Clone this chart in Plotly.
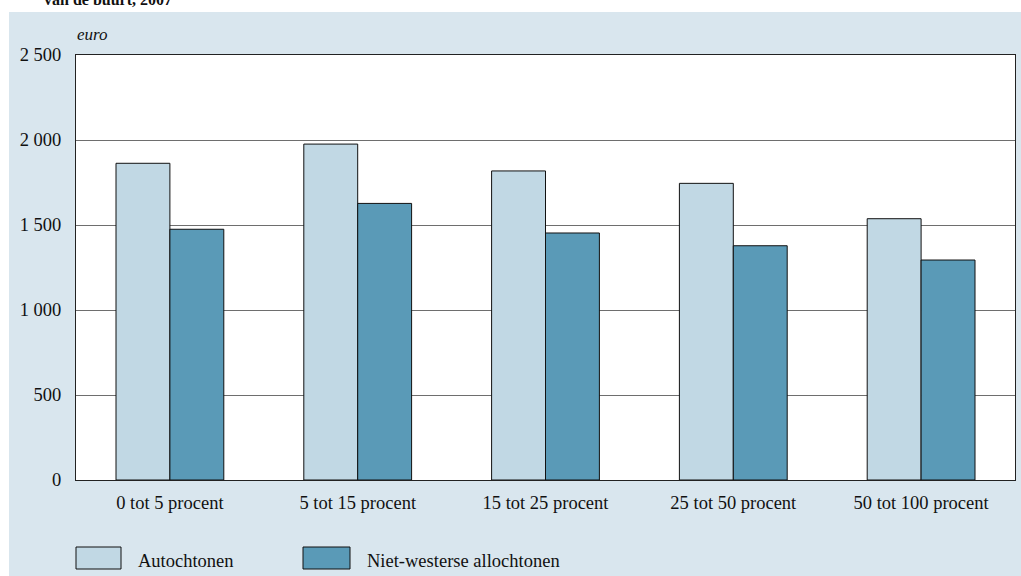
import plotly.graph_objects as go

categories = ["0 tot 5 procent", "5 tot 15 procent", "15 tot 25 procent",
              "25 tot 50 procent", "50 tot 100 procent"]
series_names = ["Autochtonen", "Niet-westerse allochtonen"]
autochtonen = [1863, 1976, 1818, 1745, 1537]
niet_westers = [1475, 1627, 1453, 1378, 1294]
y_tickvals = [0, 500, 1000, 1500, 2000, 2500]
y_ticktext = ["0", "500", "1 000", "1 500", "2 000", "2 500"]

colors = ["#c1d8e4", "#5a9ab7"]
panel = "#d9e6ee"
font_family = "Liberation Serif, Times New Roman, serif"
fsize = 18.5

W, H = 1021, 576
ml, mr, mt, mb = 76, 6, 55, 96
pw, ph = W - ml - mr, H - mt - mb

def px_x(x):
    return (x - ml) / pw

def px_y(y):
    return (H - mb - y) / ph

fig = go.Figure()
for name, vals, col in zip(series_names, [autochtonen, niet_westers], colors):
    fig.add_trace(go.Bar(
        x=categories, y=vals, name=name,
        marker=dict(color=col, line=dict(color="#111111", width=1)),
        showlegend=False,
    ))

shapes = [
    # white strips outside the light-blue panel (top and left)
    dict(type="rect", xref="paper", yref="paper", layer="below",
         x0=px_x(-2), x1=px_x(1025), y0=px_y(12), y1=px_y(-2),
         fillcolor="white", line=dict(width=0)),
    dict(type="rect", xref="paper", yref="paper", layer="below",
         x0=px_x(-2), x1=px_x(9), y0=px_y(580), y1=px_y(-2),
         fillcolor="white", line=dict(width=0)),
]
annotations = [
    dict(text="<i>euro</i>", xref="paper", yref="paper", x=px_x(75), y=px_y(35),
         xanchor="left", yanchor="middle", showarrow=False,
         font=dict(family=font_family, size=17, color="#111111")),
    dict(text="<b>van de buurt, 2007</b>", xref="paper", yref="paper",
         x=px_x(42), y=px_y(10), xanchor="left", yanchor="bottom", showarrow=False,
         font=dict(family=font_family, size=16, color="#111111")),
]
legend_boxes = [(76, 121), (303, 350)]
for (x0, x1), name, col in zip(legend_boxes, series_names, colors):
    shapes.append(dict(type="rect", xref="paper", yref="paper",
                       x0=px_x(x0), x1=px_x(x1), y0=px_y(569), y1=px_y(547),
                       fillcolor=col, line=dict(color="#111111", width=1)))
    annotations.append(dict(text=name, xref="paper", yref="paper",
                            x=px_x(x1 + 15), y=px_y(561), xanchor="left",
                            yanchor="middle", showarrow=False,
                            font=dict(family=font_family, size=fsize, color="#111111")))

fig.update_layout(
    width=W, height=H,
    margin=dict(l=ml, r=mr, t=mt, b=mb, pad=0),
    paper_bgcolor=panel, plot_bgcolor="white",
    barmode="group", bargap=0.426, bargroupgap=0,
    font=dict(family=font_family, size=fsize, color="#111111"),
    shapes=shapes, annotations=annotations,
    showlegend=False,
)
fig.update_xaxes(showline=True, mirror=True, linecolor="#222222", linewidth=1,
                 showgrid=False, ticks="", ticklabelstandoff=6,
                 tickfont=dict(family=font_family, size=fsize, color="#111111"))
fig.update_yaxes(range=[0, 2500], tickvals=y_tickvals, ticktext=y_ticktext,
                 showline=True, mirror=True, linecolor="#222222", linewidth=1,
                 showgrid=True, gridcolor="#6e6e6e", gridwidth=1.3,
                 zeroline=False, ticks="", ticklabelstandoff=10,
                 tickfont=dict(family=font_family, size=fsize, color="#111111"))

fig.write_html("out.html", config={"displayModeBar": False},
               post_script="document.body.style.margin='0';"
                           "document.body.style.overflow='hidden';")
